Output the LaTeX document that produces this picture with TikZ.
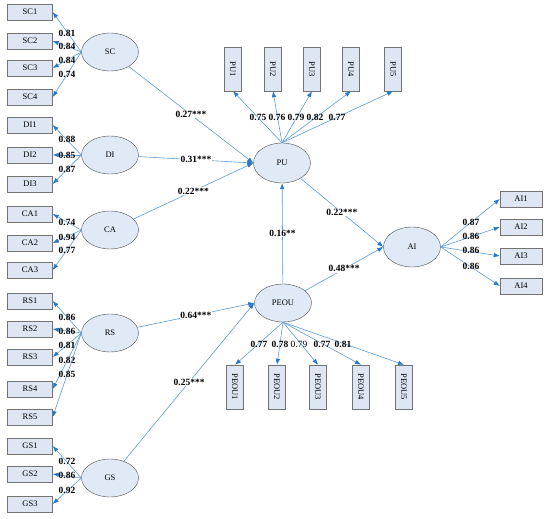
\documentclass[tikz,border=0pt]{standalone}
\usepackage{fontspec}
\setmainfont{Liberation Serif}
\usetikzlibrary{arrows.meta, shapes.geometric, shadows}
\definecolor{boxcol}{RGB}{221,230,242}
\definecolor{latcol}{RGB}{224,234,246}
\definecolor{arrcol}{RGB}{35,120,200}
\definecolor{linecol}{RGB}{90,155,215}

\begin{document}
\begin{tikzpicture}[
  x=1pt, y=-1pt,
  font=\fontsize{8.5}{10}\selectfont,
  ind/.style={draw=black!55, fill=boxcol, minimum width=45pt, minimum height=16pt,
              inner sep=1pt, drop shadow={shadow xshift=0.8pt, shadow yshift=-0.8pt, fill=black!30}},
  vind/.style={ind, rotate=-90, minimum width=44pt, minimum height=17pt},
  lat/.style={ellipse, draw=black!70, fill=latcol, minimum width=57pt,
              minimum height=38pt, inner sep=0pt},
  rel/.style={draw=linecol, line width=0.6pt, -{Latex[length=6pt, width=4.5pt, color=arrcol]}},
  coef/.style={font=\fontsize{9.5}{10}\selectfont\bfseries, inner sep=0.5pt},
  pcoef/.style={coef, fill=white}
]
  \useasboundingbox (0,0) rectangle (550,519);

  % latent variables
  \node[lat] (sc) at (110,52) {SC};
  \node[lat] (di) at (110,155) {DI};
  \node[lat] (ca) at (110,230) {CA};
  \node[lat] (rs) at (110,333) {RS};
  \node[lat] (gs) at (110,478) {GS};
  \node[lat, minimum height=40pt] (pu) at (282,163) {PU};
  \node[lat] (peou) at (283,303) {PEOU};
  \node[lat, minimum height=40pt] (ai) at (412,247) {AI};

  % measurement part, left side
  \foreach \i/\y/\l/\ly in {1/12/0.81/33, 2/41/0.84/46, 3/68/0.84/60, 4/97/0.74/74} {
    \node[ind] (sc\i) at (30,\y) {SC\i};
    \draw[rel] (sc.west) -- (sc\i.east);
    \node[coef] at (67,\ly) {\l};
  }
  \foreach \i/\y/\l/\ly in {1/125/0.88/139, 2/155/0.85/155, 3/184/0.87/169} {
    \node[ind] (di\i) at (30,\y) {DI\i};
    \draw[rel] (di.west) -- (di\i.east);
    \node[coef] at (67,\ly) {\l};
  }
  \foreach \i/\y/\l/\ly in {1/214/0.74/222, 2/243/0.94/237, 3/270/0.77/250} {
    \node[ind] (ca\i) at (30,\y) {CA\i};
    \draw[rel] (ca.west) -- (ca\i.east);
    \node[coef] at (67,\ly) {\l};
  }
  \foreach \i/\y/\l/\ly in {1/301/0.86/317, 2/329/0.86/331, 3/357/0.81/345,
                            4/389/0.82/360, 5/417/0.85/374} {
    \node[ind] (rs\i) at (30,\y) {RS\i};
    \draw[rel] (rs.west) -- (rs\i.east);
    \node[coef] at (67,\ly) {\l};
  }
  \foreach \i/\y/\l/\ly in {1/446/0.72/461, 2/474/0.86/475, 3/504/0.92/490} {
    \node[ind] (gs\i) at (30,\y) {GS\i};
    \draw[rel] (gs.west) -- (gs\i.east);
    \node[coef] at (67,\ly) {\l};
  }

  % measurement part, PU / PEOU / AI
  \foreach \i/\x/\l/\lx in {1/233/0.75/258, 2/273/0.76/277, 3/312/0.79/296,
                            4/351/0.82/315, 5/393/0.77/337} {
    \node[vind] (pu\i) at (\x,69) {PU\i};
    \draw[rel] (pu.north) -- (pu\i.east);
    \node[coef] at (\lx,117) {\l};
  }
  \foreach \i/\x in {1/235, 2/277, 3/318, 4/361, 5/404} {
    \node[vind] (peou\i) at (\x,387) {PEOU\i};
    \draw[rel] (peou.south) -- (peou\i.west);
  }
  \node[coef] at (259,344) {0.77};
  \node[coef] at (280,344) {0.78};
  \node[coef, font=\fontsize{9.5}{10}\selectfont] at (299,344) {0.79};
  \node[coef] at (322,344) {0.77};
  \node[coef] at (343,344) {0.81};
  \foreach \i/\y/\l/\ly in {1/199/0.87/222, 2/227/0.86/236, 3/256/0.86/250, 4/286/0.86/266} {
    \node[ind, minimum width=42pt] (ai\i) at (521,\y) {AI\i};
    \draw[rel] (ai.east) -- (ai\i.west);
    \node[coef] at (471,\ly) {\l};
  }

  % structural paths
  \draw[rel] (sc) -- node[pcoef]{0.27***} (pu.west);
  \draw[rel] (di) -- node[pcoef]{0.31***} (pu.west);
  \draw[rel] (ca) -- node[pcoef]{0.22***} (pu.west);
  \draw[rel] (rs) -- node[pcoef]{0.64***} (peou.west);
  \draw[rel] (gs) -- node[pcoef]{0.25***} (peou.west);
  \draw[rel] (peou) -- node[pcoef]{0.16**} (pu);
  \draw[rel] (pu) -- node[pcoef]{0.22***} (ai.west);
  \draw[rel] (peou) -- node[pcoef]{0.48***} (ai.west);
\end{tikzpicture}
\end{document}
